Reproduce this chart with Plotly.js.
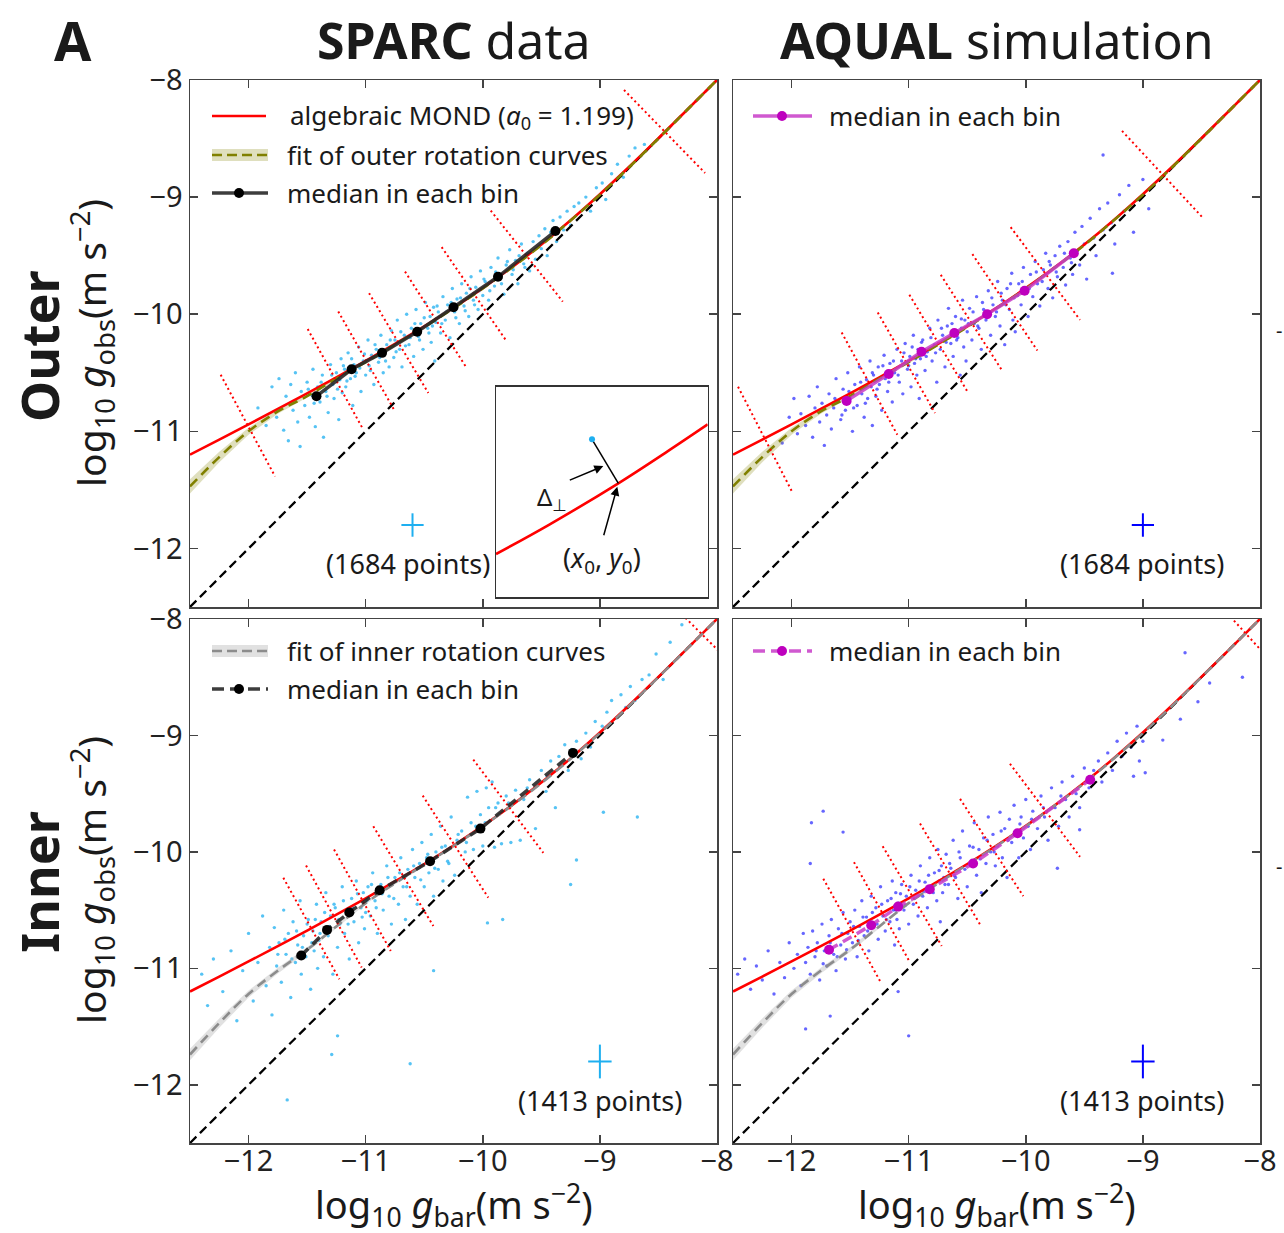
<!DOCTYPE html>
<html><head><meta charset="utf-8">
<script src="https://cdn.plot.ly/plotly-3.0.1.min.js"></script>
<style>html,body{margin:0;padding:0;background:#fff}</style>
</head><body><div id="chart" style="width:1284px;height:1233px"></div>
<script>
// ---------- data ----------
const tickVals = [-12,-11,-10,-9,-8];
const tickText = ['\u221212','\u221211','\u221210','\u22129','\u22128'];
const unityX = [-12.5,-8];
const curveX = [-12.5,-12.25,-12,-11.75,-11.5,-11.25,-11,-10.75,-10.5,-10.25,-10,-9.75,-9.5,-9.25,-9,-8.75,-8.5,-8.25,-8];
const mondY = [-11.199,-11.071,-10.941,-10.809,-10.676,-10.539,-10.399,-10.254,-10.104,-9.945,-9.777,-9.598,-9.405,-9.197,-8.975,-8.741,-8.497,-8.250,-8.000];
const outerFitY = [-11.47,-11.22,-11.00,-10.83,-10.70,-10.55,-10.41,-10.26,-10.11,-9.95,-9.78,-9.60,-9.41,-9.20,-8.98,-8.745,-8.50,-8.25,-8.0];
const outerFitErr = [0.06,0.045,0.03,0.02,0.012,0.01,0.01,0.01,0.01,0.01,0.01,0.01,0.01,0.01,0.01,0.01,0.01,0.01,0.01];
const innerFitY = [-11.74,-11.47,-11.22,-11.02,-10.84,-10.64,-10.44,-10.27,-10.11,-9.95,-9.78,-9.60,-9.41,-9.20,-8.98,-8.745,-8.50,-8.25,-8.0];
const innerFitErr = [0.05,0.04,0.03,0.025,0.02,0.015,0.01,0.01,0.01,0.01,0.01,0.01,0.01,0.01,0.01,0.01,0.01,0.01,0.01];

const sparcOuterX = [-11.92,-11.85,-11.80,-11.76,-11.74,-11.70,-11.68,-11.66,-11.64,-11.62,-11.60,-11.58,-11.56,-11.55,
-11.52,-11.50,-11.48,-11.46,-11.45,-11.43,-11.41,-11.39,-11.37,-11.36,-11.34,-11.32,-11.30,-11.28,-11.27,-11.25,-11.23,-11.22,-11.21,-11.20,
-11.18,-11.17,-11.15,-11.13,-11.11,-11.10,-11.08,-11.06,-11.04,-11.02,-11.00,-10.98,-10.97,-10.95,-10.93,-10.91,-10.89,-10.87,-10.85,-10.84,-10.82,-10.80,
-10.78,-10.76,-10.75,-10.73,-10.71,-10.69,-10.67,-10.65,-10.63,-10.61,-10.59,-10.57,-10.55,-10.53,-10.51,-10.49,-10.47,-10.45,-10.44,-10.42,-10.41,-10.40,
-10.38,-10.36,-10.34,-10.32,-10.30,-10.28,-10.26,-10.24,-10.22,-10.20,-10.18,-10.16,-10.14,-10.12,-10.10,-10.08,-10.06,-10.04,-10.02,-10.00,
-9.98,-9.95,-9.93,-9.90,-9.87,-9.85,-9.82,-9.80,-9.77,-9.75,-9.72,-9.70,-9.67,-9.65,-9.62,-9.60,
-9.57,-9.55,-9.52,-9.50,-9.47,-9.45,-9.42,-9.40,-9.37,-9.34,-9.31,-9.28,-9.25,-9.22,
-9.18,-9.12,-9.08,-9.03,-8.98,-8.95,-8.90,-8.85,-8.80,-8.75,-8.70,-8.62,
-11.49,-11.44,-11.38,-11.33,-11.29,-11.24,-11.19,-11.16,-11.12,-11.09,-11.05,-11.01,-10.96,-10.92,-10.88,-10.83,-10.79,-10.74,-10.70,-10.66,-10.62,-10.58,
-10.54,-10.50,-10.46,-10.43,-10.39,-10.35,-10.31,-10.27,-10.23,-10.19,-10.15,-10.11,-10.07,-10.03,-9.99,-9.94,-9.89,-9.84,-9.79,-9.74,-9.69,-9.64];
const sparcOuterY = [-10.80,-10.95,-10.62,-10.88,-10.55,-10.99,-10.70,-11.08,-10.60,-10.82,-10.50,-10.92,-11.13,-10.66,
-10.78,-10.58,-10.88,-10.69,-10.47,-10.96,-10.62,-10.75,-10.52,-11.05,-10.66,-10.84,-10.43,-10.60,-10.72,-10.50,-10.90,-10.56,-10.38,-10.67,
-10.47,-10.62,-10.33,-10.55,-10.78,-10.43,-10.50,-10.28,-10.66,-10.40,-10.52,-10.22,-10.44,-10.35,-10.60,-10.30,-10.41,-10.18,-10.50,-10.33,-10.26,-10.45,
-10.14,-10.37,-10.22,-10.05,-10.30,-10.45,-10.18,-10.00,-10.26,-10.12,-10.36,-9.96,-10.19,-10.08,-10.30,-9.90,-10.12,-10.02,-10.24,-9.94,-10.40,-10.07,
-9.98,-10.16,-9.85,-10.05,-9.92,-10.20,-9.78,-9.98,-9.87,-10.08,-9.74,-9.93,-9.82,-10.02,-9.68,-9.88,-9.77,-9.96,-9.63,-9.84,
-9.72,-9.88,-9.60,-9.76,-9.52,-9.68,-9.83,-9.58,-9.45,-9.66,-9.54,-9.74,-9.40,-9.57,-9.48,-9.63,
-9.38,-9.53,-9.33,-9.44,-9.27,-9.50,-9.30,-9.20,-9.38,-9.17,-9.28,-9.12,-9.24,-9.08,
-9.05,-9.00,-9.12,-8.92,-8.88,-9.02,-8.80,-8.72,-8.83,-8.65,-8.58,-8.55,
-10.64,-10.76,-10.58,-10.70,-10.52,-10.64,-10.44,-10.57,-10.38,-10.53,-10.46,-10.34,-10.48,-10.26,-10.37,-10.40,-10.22,-10.32,-10.15,-10.27,-10.20,-10.08,
-10.22,-10.03,-10.16,-10.10,-9.93,-10.08,-9.98,-9.90,-10.03,-9.86,-9.97,-9.78,-9.92,-9.80,-9.70,-9.80,-9.64,-9.74,-9.55,-9.62,-9.50,-9.60];

const aqualOuterX = [-12.08,-12.02,-11.98,-11.95,-11.92,-11.88,-11.85,-11.82,-11.80,-11.78,-11.76,-11.74,-11.72,-11.70,
-11.68,-11.66,-11.64,-11.62,-11.60,-11.58,-11.56,-11.54,-11.52,-11.50,-11.48,-11.46,-11.44,-11.42,-11.40,-11.38,-11.36,-11.35,-11.33,-11.32,-11.31,-11.30,
-11.28,-11.26,-11.25,-11.23,-11.21,-11.20,-11.18,-11.16,-11.14,-11.12,-11.10,-11.08,-11.06,-11.05,-11.03,-11.01,-10.99,-10.98,-10.96,-10.95,-10.93,-10.92,-10.91,-10.90,
-10.88,-10.86,-10.84,-10.82,-10.80,-10.78,-10.76,-10.75,-10.73,-10.71,-10.69,-10.67,-10.66,-10.64,-10.62,-10.60,-10.58,-10.56,-10.55,-10.54,-10.53,-10.52,-10.51,-10.50,
-10.48,-10.46,-10.44,-10.42,-10.40,-10.38,-10.36,-10.34,-10.32,-10.30,-10.28,-10.26,-10.24,-10.22,-10.20,-10.18,-10.16,-10.14,-10.12,-10.11,-10.10,-10.09,
-10.06,-10.04,-10.02,-10.00,-9.98,-9.96,-9.94,-9.92,-9.90,-9.88,-9.85,-9.83,-9.81,-9.79,-9.77,-9.75,-9.73,-9.71,
-9.68,-9.66,-9.64,-9.62,-9.60,-9.58,-9.56,-9.54,-9.52,-9.50,-9.48,-9.45,-9.42,-9.40,-9.37,-9.34,
-9.30,-9.27,-9.24,-9.20,-9.16,-9.12,-9.08,-9.04,-9.00,-8.95,-9.26,-9.34,
-11.63,-11.57,-11.51,-11.47,-11.41,-11.37,-11.31,-11.27,-11.22,-11.17,-11.13,-11.09,-11.04,-11.00,-10.97,-10.94,-10.89,-10.85,-10.81,-10.77,-10.72,-10.68,
-10.63,-10.59,-10.55,-10.49,-10.45,-10.41,-10.37,-10.33,-10.29,-10.25,-10.21,-10.17,-10.13,-10.07,-10.03,-9.97,-9.91,-9.86,-9.80,-9.74,-9.67,-9.61];
const aqualOuterY = [-11.10,-10.88,-10.72,-11.02,-10.85,-10.95,-10.70,-11.05,-10.80,-10.62,-10.92,-10.76,-11.12,-10.86,
-10.68,-10.98,-10.80,-10.55,-10.74,-10.90,-10.64,-10.82,-10.50,-10.72,-11.00,-10.60,-10.78,-10.45,-10.68,-10.88,-10.56,-10.72,-10.40,-10.62,-10.95,-10.52,
-10.70,-10.45,-10.60,-10.82,-10.35,-10.55,-10.66,-10.42,-10.75,-10.50,-10.30,-10.58,-10.40,-10.68,-10.25,-10.47,-10.36,-10.62,-10.18,-10.42,-10.52,-10.30,-10.72,-10.38,
-10.22,-10.48,-10.32,-10.12,-10.40,-10.26,-10.58,-10.05,-10.30,-10.18,-10.45,-10.10,-9.95,-10.25,-10.36,-10.02,-10.20,-10.52,-10.12,-9.88,-10.28,-10.05,-10.40,-10.15,
-9.95,-10.22,-10.08,-9.85,-10.12,-10.30,-9.96,-10.05,-9.80,-10.18,-9.92,-10.02,-9.72,-10.10,-9.88,-10.26,-9.78,-9.96,-9.65,-10.05,-9.86,-10.15,
-9.74,-9.92,-9.60,-9.82,-10.02,-9.66,-9.85,-9.55,-9.74,-9.93,-9.62,-9.48,-9.78,-9.58,-9.86,-9.50,-9.68,-9.42,
-9.60,-9.75,-9.38,-9.52,-9.66,-9.30,-9.46,-9.58,-9.25,-9.40,-9.70,-9.18,-9.35,-9.50,-9.10,-9.28,
-9.05,-9.22,-9.40,-8.98,-9.12,-8.90,-9.30,-9.02,-8.85,-9.10,-9.65,-8.64,
-10.72,-10.86,-10.66,-10.80,-10.58,-10.76,-10.50,-10.64,-10.44,-10.58,-10.40,-10.52,-10.33,-10.44,-10.28,-10.38,-10.24,-10.36,-10.20,-10.33,-10.12,-10.24,
-10.08,-10.22,-10.04,-10.08,-9.98,-10.10,-9.90,-10.02,-9.86,-9.98,-9.82,-9.92,-9.74,-9.84,-9.72,-9.78,-9.64,-9.72,-9.55,-9.64,-9.48,-9.56];

const sparcInnerX = [-12.40,-12.35,-12.30,-12.22,-12.15,-12.10,-12.05,-12.00,-11.96,-11.92,-11.88,-11.85,-11.82,-11.80,
-11.78,-11.76,-11.74,-11.72,-11.70,-11.68,-11.66,-11.64,-11.62,-11.60,-11.58,-11.56,-11.55,-11.53,-11.51,-11.49,-11.47,-11.45,-11.44,-11.42,-11.41,-11.40,
-11.38,-11.36,-11.34,-11.32,-11.30,-11.28,-11.26,-11.24,-11.22,-11.20,-11.18,-11.16,-11.14,-11.12,-11.10,-11.08,-11.06,-11.04,-11.02,-11.01,-11.00,-11.24,
-10.98,-10.96,-10.94,-10.92,-10.90,-10.87,-10.85,-10.82,-10.80,-10.78,-10.75,-10.72,-10.70,-10.68,-10.66,-10.64,-10.62,-10.60,
-10.58,-10.56,-10.54,-10.52,-10.50,-10.48,-10.46,-10.44,-10.42,-10.40,-10.38,-10.36,-10.34,-10.32,-10.30,-10.27,-10.24,-10.22,
-10.18,-10.15,-10.13,-10.10,-10.08,-10.05,-10.02,-10.00,-9.97,-9.95,-9.92,-9.90,-9.87,-9.84,-9.80,-9.76,-9.72,-9.68,
-9.65,-9.60,-9.55,-9.50,-9.46,-9.42,-9.38,-9.35,-9.30,-9.27,-9.24,-9.20,-9.16,-9.12,-9.08,-9.04,
-8.98,-8.94,-8.90,-8.86,-8.82,-8.78,-8.74,-8.70,-8.64,-8.58,-8.52,-8.46,-8.40,-8.30,
-11.29,-10.62,-11.67,-10.42,-9.83,-9.96,-8.68,-8.97,-9.25,-9.20,
-11.75,-11.69,-11.63,-11.59,-11.54,-11.50,-11.46,-11.43,-11.39,-11.35,-11.31,-11.27,-11.23,-11.19,-11.15,-11.11,-11.07,-11.03,-10.99,-10.95,
-10.91,-10.86,-10.81,-10.76,-10.71,-10.65,-10.59,-10.53,-10.47,-10.41,-10.35,-10.29,-10.21,-10.14,-10.06,-9.98,-9.89,-9.78,-9.62,-9.45];
const sparcInnerY = [-11.05,-11.32,-10.92,-11.20,-10.85,-11.45,-11.02,-10.70,-11.28,-10.95,-10.55,-11.15,-10.82,-11.40,
-10.65,-10.98,-10.78,-11.12,-10.50,-10.88,-10.70,-11.25,-10.60,-10.95,-10.80,-10.42,-11.05,-10.72,-10.90,-10.58,-11.18,-10.68,-10.85,-10.45,-11.00,-10.76,
-10.60,-10.90,-10.35,-10.72,-10.55,-11.05,-10.48,-10.82,-10.62,-10.30,-10.70,-10.52,-10.92,-10.40,-10.60,-10.25,-10.78,-10.48,-10.35,-10.66,-10.52,-11.58,
-10.30,-10.55,-10.18,-10.42,-10.70,-10.28,-10.50,-10.12,-10.38,-10.62,-10.22,-10.45,-10.05,-10.30,-10.58,-10.15,-10.38,-9.98,
-10.22,-10.45,-10.10,-9.92,-10.30,-10.05,-10.18,-9.85,-10.38,-10.00,-10.15,-9.78,-10.25,-9.95,-10.08,-9.70,-10.20,-9.90,
-9.82,-10.00,-9.53,-9.75,-9.98,-9.48,-9.68,-9.95,-9.45,-9.62,-9.40,-9.96,-9.58,-9.93,-9.52,-9.92,-9.47,-9.90,
-9.55,-9.38,-9.80,-9.30,-9.48,-9.22,-9.62,-9.18,-9.08,-9.30,-9.12,-9.05,-9.20,-8.98,-9.10,-8.88,
-8.92,-8.80,-8.70,-8.85,-8.65,-8.76,-8.58,-8.70,-8.52,-8.48,-8.30,-8.52,-8.20,-8.05,
-11.74,-11.82,-12.13,-11.02,-10.58,-10.61,-9.70,-9.66,-10.28,-10.07,
-10.88,-10.75,-10.92,-10.68,-10.82,-10.62,-10.78,-10.58,-10.70,-10.52,-10.64,-10.45,-10.58,-10.42,-10.62,-10.48,-10.36,-10.56,-10.42,-10.28,
-10.48,-10.36,-10.22,-10.40,-10.18,-10.30,-10.12,-10.24,-10.02,-10.14,-9.96,-10.10,-9.85,-9.92,-9.78,-9.75,-9.62,-9.58,-9.45,-9.35];

const aqualInnerX = [-12.46,-12.40,-12.35,-12.30,-12.25,-12.20,-12.15,-12.10,-12.06,-12.02,-11.98,-11.95,-11.92,-11.90,
-11.88,-11.86,-11.84,-11.82,-11.80,-11.78,-11.76,-11.74,-11.72,-11.70,-11.68,-11.66,-11.64,-11.62,-11.60,-11.58,-11.56,-11.54,-11.52,-11.50,
-11.48,-11.46,-11.44,-11.42,-11.40,-11.38,-11.36,-11.34,-11.32,-11.30,-11.28,-11.26,-11.24,-11.22,-11.20,-11.18,-11.16,-11.14,-11.13,-11.12,-11.11,-11.10,-11.09,-11.08,
-11.06,-11.04,-11.02,-11.00,-10.98,-10.96,-10.94,-10.92,-10.90,-10.88,-10.86,-10.84,-10.82,-10.80,-10.78,-10.76,-10.75,-10.74,-10.73,-10.72,-10.71,-10.70,
-10.68,-10.66,-10.64,-10.62,-10.60,-10.58,-10.56,-10.54,-10.52,-10.50,-10.48,-10.46,-10.44,-10.42,-10.40,-10.38,-10.36,-10.34,-10.32,-10.30,
-10.28,-10.26,-10.24,-10.22,-10.20,-10.18,-10.16,-10.14,-10.12,-10.10,-10.08,-10.06,-10.04,-10.02,-10.00,-9.98,-9.96,-9.94,
-9.90,-9.87,-9.84,-9.81,-9.78,-9.75,-9.72,-9.69,-9.66,-9.63,-9.60,-9.57,-9.54,-9.50,-9.46,-9.42,
-9.38,-9.35,-9.30,-9.26,-9.22,-9.18,-9.14,-9.10,-9.05,-9.00,
-11.83,-11.73,-11.84,-11.56,-11.00,-11.67,-11.88,-11.09,-8.64,-8.15,-8.43,-8.53,-8.68,-8.83,-8.98,-9.08,-9.03,-9.73,-9.54,
-11.79,-11.73,-11.67,-11.61,-11.57,-11.53,-11.47,-11.43,-11.39,-11.35,-11.31,-11.27,-11.23,-11.19,-11.15,-11.11,-11.07,-11.03,-10.99,-10.95,
-10.91,-10.87,-10.83,-10.79,-10.74,-10.69,-10.65,-10.61,-10.57,-10.51,-10.45,-10.39,-10.33,-10.27,-10.21,-10.15,-10.05,-9.95,-9.85,-9.70];
const aqualInnerY = [-11.05,-10.92,-11.18,-10.98,-11.10,-10.85,-11.22,-10.95,-11.08,-10.78,-11.00,-10.88,-11.15,-10.70,
-10.95,-10.82,-11.05,-10.68,-10.90,-10.78,-11.10,-10.62,-10.85,-10.98,-10.72,-10.58,-10.88,-11.02,-10.66,-10.80,-10.52,-10.92,-10.70,-10.60,
-10.78,-10.50,-10.90,-10.64,-10.42,-10.72,-10.56,-10.85,-10.38,-10.62,-10.48,-10.75,-10.30,-10.55,-10.68,-10.42,-10.60,-10.25,-10.50,-10.80,-10.35,-10.58,-10.44,-10.66,
-10.28,-10.50,-10.38,-10.62,-10.20,-10.45,-10.33,-10.55,-10.12,-10.38,-10.26,-10.48,-10.05,-10.30,-10.18,-10.42,-9.98,-10.25,-10.60,-10.12,-10.35,-10.22,
-10.02,-10.28,-10.14,-9.90,-10.22,-10.40,-10.05,-9.82,-10.15,-10.30,-9.95,-10.08,-9.75,-10.20,-9.98,-10.35,-9.88,-10.10,-9.70,-10.00,
-9.85,-10.12,-9.95,-9.66,-10.05,-9.80,-10.22,-9.72,-9.92,-9.60,-9.85,-10.05,-9.70,-9.88,-9.55,-9.78,-9.98,-9.65,
-9.80,-9.52,-9.70,-9.90,-9.45,-9.62,-9.78,-9.40,-9.55,-9.70,-9.35,-9.50,-9.62,-9.28,-9.45,-9.30,
-9.22,-9.40,-9.15,-9.30,-9.05,-9.18,-8.98,-9.10,-8.92,-9.05,
-9.75,-9.65,-10.10,-9.83,-11.58,-11.41,-11.52,-11.20,-8.29,-8.50,-8.55,-8.71,-8.86,-9.04,-9.32,-9.35,-9.22,-10.14,-9.81,
-10.85,-10.96,-10.78,-10.90,-10.70,-10.84,-10.64,-10.76,-10.56,-10.68,-10.52,-10.62,-10.45,-10.58,-10.40,-10.50,-10.36,-10.46,-10.30,-10.40,
-10.25,-10.34,-10.20,-10.35,-10.16,-10.28,-10.10,-10.20,-10.00,-10.12,-9.96,-10.06,-9.90,-10.00,-9.82,-9.90,-9.76,-9.72,-9.62,-9.52];

const medSparcOuterX = [-11.42,-11.12,-10.86,-10.56,-10.25,-9.87,-9.38];
const medSparcOuterY = [-10.70,-10.47,-10.33,-10.15,-9.94,-9.68,-9.29];
const medAqualOuterX = [-11.53,-11.17,-10.89,-10.61,-10.33,-10.01,-9.59];
const medAqualOuterY = [-10.74,-10.51,-10.32,-10.16,-10.00,-9.80,-9.48];
const medSparcInnerX = [-11.55,-11.33,-11.14,-10.88,-10.45,-10.02,-9.23];
const medSparcInnerY = [-10.89,-10.67,-10.52,-10.33,-10.08,-9.80,-9.15];
const medAqualInnerX = [-11.68,-11.32,-11.09,-10.82,-10.45,-10.07,-9.45];
const medAqualInnerY = [-10.84,-10.63,-10.47,-10.32,-10.10,-9.84,-9.38];

// bin edges drawn perpendicular to the relation: [x1, y1, x2, y2]
const binsSparcOuter = [[-12.238,-10.517,-11.774,-11.385],[-11.495,-10.127,-11.020,-10.986],[-11.234,-9.977,-10.749,-10.830],[-10.971,-9.820,-10.465,-10.673],[-10.664,-9.636,-10.137,-10.460],[-10.351,-9.427,-9.795,-10.233],[-9.932,-9.115,-9.317,-9.892],[-8.794,-8.085,-8.102,-8.794]];
const binsAqualOuter = [[-12.457,-10.619,-11.996,-11.515],[-11.572,-10.156,-11.097,-11.029],[-11.264,-9.985,-10.775,-10.844],[-10.994,-9.834,-10.491,-10.673],[-10.726,-9.664,-10.197,-10.489],[-10.456,-9.487,-9.901,-10.310],[-10.129,-9.257,-9.537,-10.048],[-9.178,-8.435,-8.495,-9.169]];
const binsSparcInner = [[-11.703,-10.222,-11.225,-11.093],[-11.509,-10.117,-11.034,-10.993],[-11.270,-9.979,-10.786,-10.851],[-10.935,-9.780,-10.422,-10.637],[-10.513,-9.517,-9.953,-10.393],[-10.081,-9.208,-9.483,-10.008],[-8.30,-7.96,-7.98,-8.28]];
const binsAqualInner = [[-11.729,-10.230,-11.245,-11.108],[-11.467,-10.088,-10.988,-10.950],[-11.222,-9.951,-10.718,-10.808],[-10.903,-9.757,-10.391,-10.622],[-10.561,-9.545,-10.021,-10.380],[-10.135,-9.243,-9.537,-10.042],[-8.28,-7.95,-7.99,-8.27]];

// typical error crosses [x, y, half-width x, half-width y]
const crossSparcOuter = [-10.6,-11.8,0.095,0.1];
const crossAqualOuter = [-9.0,-11.8,0.095,0.1];
const crossSparcInner = [-9.0,-11.8,0.1,0.145];
const crossAqualInner = [-9.0,-11.8,0.1,0.145];
const countOuter = '(1684 points)';
const countInner = '(1413 points)';

// inset schematic (unit box)
const insetCurveU = [0,0.25,0.578,0.8,1];
const insetCurveV = [0.204,0.343,0.540,0.685,0.820];
const insetPointU = [0.4535], insetPointV = [0.749];
const insetFootU = [0.578], insetFootV = [0.540];

// ---------- drawing ----------
const FONT = 'Noto Sans, Open Sans, DejaVu Sans, sans-serif';
const W = 1284, H = 1233;
const PX = x => x / W, PY = y => 1 - y / H;
const XL = [PX(190), PX(717)], XR = [PX(733), PX(1260)];
const YT = [PY(607), PY(80)], YB = [PY(1143), PY(619)];
const CYAN = 'rgb(30,175,240)', BLUE = 'rgb(0,0,255)', MAG = 'rgb(190,0,190)';

const traces = [];
function panel(xa, ya, p) {
  const base = {type:'scatter', xaxis:xa, yaxis:ya, hoverinfo:'skip', showlegend:false};
  traces.push(Object.assign({}, base, {mode:'markers', x:p.px, y:p.py,
    marker:{size:3.4, color:p.pcolor, opacity:p.popac}}));
  const bx = curveX.concat(curveX.slice().reverse());
  const by = p.fitY.map((v,i)=>v+p.fitErr[i]).concat(p.fitY.map((v,i)=>v-p.fitErr[i]).reverse());
  traces.push(Object.assign({}, base, {mode:'lines', x:bx, y:by, fill:'toself', fillcolor:p.bandColor, line:{width:0}}));
  traces.push(Object.assign({}, base, {mode:'lines', x:unityX, y:unityX, line:{color:'black', width:2.3, dash:'9px,5px'}}));
  traces.push(Object.assign({}, base, {mode:'lines', x:curveX, y:mondY, line:{color:'rgb(255,0,0)', width:2.6, shape:'spline'}}));
  traces.push(Object.assign({}, base, {mode:'lines', x:curveX, y:p.fitY, line:{color:p.fitColor, width:2.6, dash:'10px,6px', shape:'spline'}}));
  const lx = [], ly = [];
  p.bins.forEach(b => { lx.push(b[0], b[2], null); ly.push(b[1], b[3], null); });
  traces.push(Object.assign({}, base, {mode:'lines', x:lx, y:ly, line:{color:'rgb(255,0,0)', width:2, dash:'2px,3px'}}));
  traces.push(Object.assign({}, base, {mode:'lines+markers', x:p.mx, y:p.my,
    line:{color:p.mline, width:3.5, dash:p.mdash}, marker:{size:10, color:p.mcolor}}));
  const c = p.cross;
  traces.push(Object.assign({}, base, {mode:'markers', x:[c[0]], y:[c[1]], marker:{size:1, color:p.ccolor},
    error_x:{type:'constant', value:c[2], thickness:2, width:0, color:p.ccolor},
    error_y:{type:'constant', value:c[3], thickness:2, width:0, color:p.ccolor}}));
}

panel('x3','y3', {px:sparcOuterX, py:sparcOuterY, pcolor:CYAN, popac:0.75, fitY:outerFitY, fitErr:outerFitErr,
  bandColor:'rgba(150,150,40,0.3)', fitColor:'rgb(128,128,0)', bins:binsSparcOuter,
  mx:medSparcOuterX, my:medSparcOuterY, mline:'rgba(40,40,40,0.9)', mcolor:'black', mdash:'solid',
  cross:crossSparcOuter, ccolor:CYAN});
panel('x4','y4', {px:aqualOuterX, py:aqualOuterY, pcolor:BLUE, popac:0.6, fitY:outerFitY, fitErr:outerFitErr,
  bandColor:'rgba(150,150,40,0.3)', fitColor:'rgb(128,128,0)', bins:binsAqualOuter,
  mx:medAqualOuterX, my:medAqualOuterY, mline:'rgba(200,60,200,0.85)', mcolor:MAG, mdash:'solid',
  cross:crossAqualOuter, ccolor:BLUE});
panel('x','y', {px:sparcInnerX, py:sparcInnerY, pcolor:CYAN, popac:0.75, fitY:innerFitY, fitErr:innerFitErr,
  bandColor:'rgba(170,170,170,0.35)', fitColor:'rgb(140,140,140)', bins:binsSparcInner,
  mx:medSparcInnerX, my:medSparcInnerY, mline:'rgba(40,40,40,0.9)', mcolor:'black', mdash:'10px,6px',
  cross:crossSparcInner, ccolor:CYAN});
panel('x2','y2', {px:aqualInnerX, py:aqualInnerY, pcolor:BLUE, popac:0.6, fitY:innerFitY, fitErr:innerFitErr,
  bandColor:'rgba(170,170,170,0.35)', fitColor:'rgb(140,140,140)', bins:binsAqualInner,
  mx:medAqualInnerX, my:medAqualInnerY, mline:'rgba(200,60,200,0.85)', mcolor:MAG, mdash:'10px,6px',
  cross:crossAqualInner, ccolor:BLUE});

// inset
traces.push({type:'scatter', mode:'lines', x:insetCurveU, y:insetCurveV, xaxis:'x5', yaxis:'y5',
  line:{color:'rgb(255,0,0)', width:2.6, shape:'spline'}, hoverinfo:'skip', showlegend:false});
traces.push({type:'scatter', mode:'lines', x:insetPointU.concat(insetFootU), y:insetPointV.concat(insetFootV), xaxis:'x5', yaxis:'y5',
  line:{color:'black', width:1.5}, hoverinfo:'skip', showlegend:false});
traces.push({type:'scatter', mode:'markers', x:insetPointU, y:insetPointV, xaxis:'x5', yaxis:'y5',
  marker:{size:6, color:CYAN}, hoverinfo:'skip', showlegend:false});

function ax(domain, anchor, labels, isX) {
  return {domain, anchor, range:[-12.5,-8], tickmode:'array', tickvals:tickVals, ticktext:tickText,
    ticks:'inside', ticklen:8, tickwidth:1.5, tickcolor:'#444', showline:true, linecolor:'#444', linewidth:1.5,
    mirror:'ticks', showgrid:false, zeroline:false, showticklabels:labels, ticklabelstandoff: isX ? -8 : 0,
    tickfont:{family:FONT, size:29, color:'#222'}, fixedrange:true};
}
const insetAx = (domain, anchor) => ({domain, anchor, range:[0,1], showline:true, mirror:true, linecolor:'#333',
  linewidth:1.5, ticks:'', showticklabels:false, showgrid:false, zeroline:false, fixedrange:true});

const annotations = [];
function txt(text, x, y, size, o) {
  annotations.push(Object.assign({text, x:PX(x), y:PY(y), xref:'paper', yref:'paper', showarrow:false,
    xanchor:'center', yanchor:'middle', font:{family:FONT, size, color:'#1a1a1a'}}, o || {}));
}
txt('<b>A</b>', 73, 40, 54);
txt('<b>SPARC</b> data', 454, 40, 50);
txt('<b>AQUAL</b> simulation', 997, 40, 50);
txt('<b>Outer</b>', 38, 346, 52, {textangle:-90});
txt('<b>Inner</b>', 38, 882, 52, {textangle:-90});
const yTitle = 'log<sub>10</sub> <i>g</i><sub>obs</sub>(m s<sup>\u22122</sup>)';
const xTitle = 'log<sub>10</sub> <i>g</i><sub>bar</sub>(m s<sup>\u22122</sup>)';
txt(yTitle, 92, 343, 39, {textangle:-90, borderpad:6});
txt(yTitle, 92, 880, 39, {textangle:-90, borderpad:6});
txt(xTitle, 454, 1205, 38, {borderpad:8});
txt(xTitle, 997, 1205, 38, {borderpad:8});
txt(countOuter, 408, 563, 27);
txt(countOuter, 1142, 563, 27);
txt(countInner, 600, 1100, 27);
txt(countInner, 1142, 1100, 27);
// legends
txt('algebraic MOND (<i>a</i><sub>0</sub> = 1.199)', 285, 116, 26, {xanchor:'left', borderpad:4});
txt('fit of outer rotation curves', 285, 155, 26, {xanchor:'left'});
txt('median in each bin', 285, 193, 26, {xanchor:'left'});
txt('median in each bin', 827, 116, 26, {xanchor:'left'});
txt('fit of inner rotation curves', 285, 651, 26, {xanchor:'left'});
txt('median in each bin', 285, 689, 26, {xanchor:'left'});
txt('median in each bin', 827, 651, 26, {xanchor:'left'});
txt('-', 1284, 330, 20, {xanchor:'right'});
txt('-', 1284, 866, 20, {xanchor:'right'});
// inset labels & arrows
annotations.push({text:'\u0394<sub>\u22a5</sub>', x:0.263, y:0.469, xref:'x5', yref:'y5', showarrow:false, borderpad:4,
  font:{family:FONT, size:24, color:'#1a1a1a'}});
annotations.push({text:'(<i>x</i><sub>0</sub>, <i>y</i><sub>0</sub>)', x:0.499, y:0.176, xref:'x5', yref:'y5', showarrow:false, borderpad:4,
  font:{family:FONT, size:27, color:'#1a1a1a'}});
annotations.push({text:'', x:0.507, y:0.622, ax:0.3415, ay:0.5525, xref:'x5', yref:'y5', axref:'x5', ayref:'y5',
  showarrow:true, arrowhead:2, arrowsize:1.2, arrowwidth:1.5, arrowcolor:'black', standoff:0});
annotations.push({text:'', x:0.573, y:0.524, ax:0.507, ay:0.286, xref:'x5', yref:'y5', axref:'x5', ayref:'y5',
  showarrow:true, arrowhead:2, arrowsize:1.2, arrowwidth:1.5, arrowcolor:'black', standoff:0});

const shapes = [];
function seg(x0, x1, y, color, width, dash) {
  shapes.push({type:'line', xref:'paper', yref:'paper', x0:PX(x0), x1:PX(x1), y0:PY(y), y1:PY(y), line:{color, width, dash:dash||'solid'}});
}
function dot(x, y, r, color) {
  shapes.push({type:'circle', xref:'paper', yref:'paper', x0:PX(x-r), x1:PX(x+r), y0:PY(y+r), y1:PY(y-r), fillcolor:color, line:{width:0}});
}
function band(x0, x1, y, h, color) {
  shapes.push({type:'rect', xref:'paper', yref:'paper', x0:PX(x0), x1:PX(x1), y0:PY(y+h), y1:PY(y-h), fillcolor:color, line:{width:0}});
}
seg(212, 266, 116, 'rgb(255,0,0)', 2.6);
band(212, 268, 155, 6, 'rgba(150,150,40,0.3)');
seg(212, 268, 155, 'rgb(128,128,0)', 2.6, '10px,5px');
seg(212, 268, 193, 'rgba(40,40,40,0.9)', 3.5);
dot(239, 193, 5, 'black');
seg(753, 812, 116, 'rgba(200,60,200,0.85)', 3.5);
dot(782, 116, 5, MAG);
band(212, 268, 651, 6, 'rgba(170,170,170,0.35)');
seg(212, 268, 651, 'rgb(140,140,140)', 2.6, '10px,5px');
seg(212, 268, 689, 'rgba(40,40,40,0.9)', 3.5, '12px,6px');
dot(239, 689, 5, 'black');
seg(753, 812, 651, 'rgba(200,60,200,0.85)', 3.5, '12px,6px');
dot(782, 651, 5, MAG);

const layout = {
  width:W, height:H, margin:{l:0, r:0, t:0, b:0, pad:0},
  paper_bgcolor:'white', plot_bgcolor:'white', showlegend:false,
  font:{family:FONT, color:'#222'},
  xaxis:ax(XL,'y',true,true), yaxis:ax(YB,'x',true,false),
  xaxis2:ax(XR,'y2',true,true), yaxis2:ax(YB,'x2',false,false),
  xaxis3:ax(XL,'y3',false,true), yaxis3:ax(YT,'x3',true,false),
  xaxis4:ax(XR,'y4',false,true), yaxis4:ax(YT,'x4',false,false),
  xaxis5:insetAx([PX(496), PX(707.7)], 'y5'), yaxis5:insetAx([PY(597), PY(386.5)], 'x5'),
  annotations, shapes
};
Plotly.newPlot('chart', traces, layout, {staticPlot:true, displayModeBar:false});
</script></body></html>
